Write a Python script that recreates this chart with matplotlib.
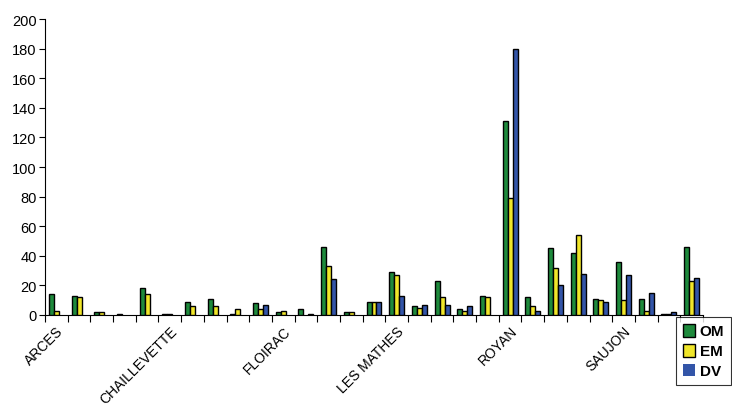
import matplotlib
matplotlib.use("Agg")
import matplotlib.pyplot as plt
import numpy as np

plt.rcParams['font.family'] = ['Liberation Sans', 'DejaVu Sans']

categories = ["ARCES", "ARVERT", "BARZAN", "BOUTENAC-TOUVENT", "BREUILLET",
              "CHAILLEVETTE", "CHENAC", "CORME-ECLUSE", "COZES", "EPARGNES",
              "FLOIRAC", "GREZAC", "L'EGUILLE", "LA TREMBLADE", "LE CHAY",
              "LES MATHES", "MEDIS", "MESCHERS", "MORNAC", "MORTAGNE",
              "ROYAN", "ST AUGUSTIN", "ST GEORGES", "ST PALAIS", "ST SULPICE",
              "SAUJON", "SEMUSSAC", "TALMONT", "VAUX"]
om = [14, 13, 2, 1, 18, 1, 9, 11, 1, 8, 2, 4, 46, 2, 9, 29, 6, 23, 4, 13,
      131, 12, 45, 42, 11, 36, 11, 1, 46]
em = [3, 12, 2, 0, 14, 1, 6, 6, 4, 4, 3, 0, 33, 2, 9, 27, 5, 12, 3, 12,
      79, 6, 32, 54, 10, 10, 3, 1, 23]
dv = [0, 0, 0, 0, 0, 0, 0, 0, 0, 7, 0, 1, 24, 0, 9, 13, 7, 7, 6, 0,
      180, 3, 20, 28, 9, 27, 15, 2, 25]
series_names = ["OM", "EM", "DV"]
colors = ["#1e8a3c", "#f0e62a", "#3355a8"]

fig = plt.figure(figsize=(7.32, 4.10), dpi=100)
ax = fig.add_axes([45/732, 1-316/410, (703-45)/732, (316-20)/410])

n = len(categories)
x = np.arange(n)
w = 0.22
for i, (vals, name, c) in enumerate(zip([om, em, dv], series_names, colors)):
    lws = [1.0 if v > 0 else 0.0 for v in vals]
    ax.bar(x + (i - 1) * w, vals, width=w, color=c, edgecolor="black",
           linewidth=lws, label=name, zorder=3)

ax.set_xlim(-0.5, n - 0.5)
ax.set_ylim(0, 200)
ax.set_yticks(np.arange(0, 201, 20))
ax.tick_params(axis='y', labelsize=10.5, length=4, width=0.8, direction='out', pad=2)

ax.set_xticks(np.arange(-0.5, n, 1.0), minor=False)
ax.set_xticklabels([])
ax.tick_params(axis='x', which='major', length=5, width=0.8, direction='out')
ax.set_xticks(x, minor=True)
labels = [c if i % 5 == 0 else "" for i, c in enumerate(categories)]
ax.set_xticklabels(labels, minor=True, rotation=45, ha='right', va='top',
                   rotation_mode='anchor', fontsize=10)
ax.tick_params(axis='x', which='minor', length=0, pad=6)

for s in ["top", "right"]:
    ax.spines[s].set_visible(False)
for s in ["left", "bottom"]:
    ax.spines[s].set_linewidth(0.8)

leg = fig.legend(loc='upper left', bbox_to_anchor=(676/732, 1-318/410),
                 frameon=True, fancybox=False, edgecolor='black',
                 prop={'size': 11, 'weight': 'bold'},
                 handlelength=0.8, handleheight=0.9, handletextpad=0.3,
                 labelspacing=0.35, borderpad=0.45, borderaxespad=0)
leg.get_frame().set_linewidth(0.8)

fig.savefig("out.png", dpi=100)
